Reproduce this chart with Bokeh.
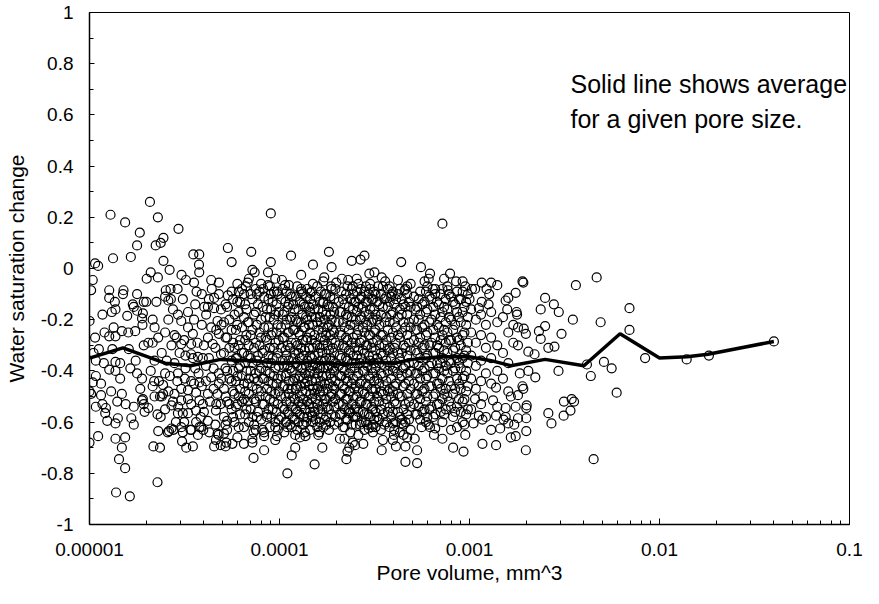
from bokeh.plotting import figure
from bokeh.models import Range1d, FixedTicker, CustomJSTickFormatter, Label
from bokeh.embed import file_html
from bokeh.resources import INLINE

# ---- data: (pore volume mm^3, water saturation change) ----
band_1e5_2e5 = [
    (1.29e-5, 0.21), (1.54e-5, 0.18), (1.84e-5, 0.14), (1.78e-5, 0.09), (1.33e-5, 0.04),
    (1.65e-5, 0.045), (1.07e-5, 0.02), (1.11e-5, 0.01), (1.04e-5, -0.045), (1.02e-5, -0.085),
    (1.27e-5, -0.085), (1.51e-5, -0.085), (1.50e-5, -0.10), (1.27e-5, -0.115), (1.36e-5, -0.13),
    (1.78e-5, -0.10), (1.93e-5, -0.13), (1.99e-5, -0.13), (1.69e-5, -0.14), (1.00e-5, -0.205),
    (1.07e-5, -0.27), (1.34e-5, -0.23), (1.48e-5, -0.245), (1.27e-5, -0.265), (1.37e-5, -0.265),
    (1.17e-5, -0.18), (1.37e-5, -0.16), (1.31e-5, -0.17), (1.58e-5, -0.185), (1.71e-5, -0.15),
    (1.78e-5, -0.165), (1.91e-5, -0.175), (1.89e-5, -0.195), (1.74e-5, -0.245), (1.93e-5, -0.30),
    (1.61e-5, -0.315), (1.32e-5, -0.315), (1.12e-5, -0.315), (1.08e-5, -0.36), (1.19e-5, -0.37),
    (1.37e-5, -0.365), (1.45e-5, -0.37), (1.27e-5, -0.395), (1.37e-5, -0.40), (1.64e-5, -0.39),
    (1.08e-5, -0.42), (1.04e-5, -0.445), (1.00e-5, -0.48), (1.48e-5, -0.49), (1.78e-5, -0.41),
    (1.89e-5, -0.43), (1.17e-5, -0.53), (1.15e-5, -0.495), (1.22e-5, -0.545), (1.21e-5, -0.565),
    (1.24e-5, -0.595), (1.08e-5, -0.54), (1.41e-5, -0.585), (1.37e-5, -0.605), (1.66e-5, -0.585),
    (1.71e-5, -0.61), (1.71e-5, -0.54), (1.89e-5, -0.515), (1.93e-5, -0.53), (1.00e-5, -0.68),
    (1.11e-5, -0.655), (1.37e-5, -0.665), (1.54e-5, -0.66), (1.48e-5, -0.70), (1.43e-5, -0.745),
    (1.54e-5, -0.78), (1.38e-5, -0.875), (1.63e-5, -0.89), (1.02e-5, -0.49), (1.91e-5, -0.51),
    (1.05e-5, -0.33), (1.15e-5, -0.45), (1.30e-5, -0.48), (1.45e-5, -0.43), (1.20e-5, -0.25),
    (1.60e-5, -0.25), (1.90e-5, -0.22), (1.75e-5, -0.36), (1.85e-5, -0.47), (1.95e-5, -0.56),
    (1.55e-5, -0.53), (1.40e-5, -0.52),
]

band_2e5_5e5 = [
    (2.08e-5, 0.26), (2.29e-5, 0.20), (2.45e-5, 0.12), (2.37e-5, 0.10), (2.23e-5, 0.09),
    (2.94e-5, 0.155), (2.45e-5, 0.03), (3.52e-5, 0.055), (3.78e-5, 0.055), (3.77e-5, 0.015),
    (2.64e-5, -0.005), (2.10e-5, -0.015), (2.00e-5, -0.04), (2.29e-5, -0.035), (3.05e-5, -0.025),
    (3.22e-5, -0.045), (3.55e-5, -0.055), (3.78e-5, -0.015), (4.37e-5, -0.045), (4.80e-5, -0.055),
    (2.52e-5, -0.085), (2.67e-5, -0.08), (2.91e-5, -0.08), (3.66e-5, -0.09), (4.53e-5, -0.115),
    (2.60e-5, -0.125), (2.68e-5, -0.12), (4.02e-5, -0.15), (4.20e-5, -0.15), (4.53e-5, -0.155),
    (4.92e-5, -0.16), (2.20e-5, -0.23), (2.04e-5, -0.29), (2.15e-5, -0.29), (2.19e-5, -0.44),
    (2.32e-5, -0.44), (2.44e-5, -0.455), (2.44e-5, -0.49), (2.04e-5, -0.545), (2.28e-5, -0.57),
    (2.37e-5, -0.58), (2.17e-5, -0.695), (2.35e-5, -0.70), (2.28e-5, -0.835), (2.30e-5, -0.635),
    (2.62e-5, -0.635), (2.70e-5, -0.625), (2.20e-5, -0.50), (2.40e-5, -0.50), (2.58e-5, -0.64),
    (2.77e-5, -0.63), (2.70e-5, -0.535), (2.93e-5, -0.54), (3.10e-5, -0.565), (3.07e-5, -0.675),
    (3.23e-5, -0.70), (3.50e-5, -0.695), (3.40e-5, -0.63), (3.72e-5, -0.65), (3.79e-5, -0.62),
    (3.64e-5, -0.60), (3.97e-5, -0.63), (4.27e-5, -0.64), (4.63e-5, -0.67), (4.78e-5, -0.65),
    (4.90e-5, -0.69), (2.92e-5, -0.18), (3.04e-5, -0.205), (3.30e-5, -0.23), (3.50e-5, -0.255),
    (2.87e-5, -0.27), (3.04e-5, -0.295), (3.43e-5, -0.295), (2.98e-5, -0.33), (3.43e-5, -0.335),
    (3.72e-5, -0.345), (2.92e-5, -0.41), (3.17e-5, -0.43), (3.43e-5, -0.44), (3.79e-5, -0.445),
    (3.04e-5, -0.47), (3.30e-5, -0.475), (3.64e-5, -0.485), (3.04e-5, -0.515), (3.43e-5, -0.53),
    (3.79e-5, -0.515), (2.92e-5, -0.565), (3.30e-5, -0.565), (3.64e-5, -0.555), (3.04e-5, -0.62),
    (3.43e-5, -0.63), (3.87e-5, -0.62), (4.20e-5, -0.595), (4.20e-5, -0.49), (4.37e-5, -0.425),
    (4.45e-5, -0.295), (4.37e-5, -0.23), (4.11e-5, -0.18), (4.72e-5, -0.205), (4.80e-5, -0.255),
    (4.92e-5, -0.335), (4.72e-5, -0.49), (4.63e-5, -0.555), (4.72e-5, -0.645), (4.53e-5, -0.695),
    (3.10e-5, -0.12), (3.60e-5, -0.14), (2.60e-5, -0.20), (2.50e-5, -0.25), (2.70e-5, -0.30),
    (2.55e-5, -0.36), (2.40e-5, -0.33), (2.30e-5, -0.27), (2.20e-5, -0.36), (2.10e-5, -0.40),
    (2.60e-5, -0.48), (2.75e-5, -0.52), (2.50e-5, -0.55), (2.85e-5, -0.60), (4.00e-5, -0.30),
    (4.10e-5, -0.38), (3.90e-5, -0.46), (4.30e-5, -0.52), (4.00e-5, -0.56), (3.20e-5, -0.39),
    (3.75e-5, -0.41), (3.50e-5, -0.35), (4.50e-5, -0.39), (4.80e-5, -0.45), (4.60e-5, -0.61),
    (3.10e-5, -0.64), (2.90e-5, -0.44), (2.35e-5, -0.50), (4.40e-5, -0.08), (3.90e-5, -0.10),
    (4.80e-5, -0.10), (3.30e-5, -0.17), (3.90e-5, -0.22), (4.20e-5, -0.27), (3.70e-5, -0.29),
    (4.60e-5, -0.31), (3.20e-5, -0.34), (2.80e-5, -0.37), (3.60e-5, -0.39), (4.80e-5, -0.41),
    (4.10e-5, -0.44), (3.30e-5, -0.51), (4.50e-5, -0.47), (4.90e-5, -0.53), (3.85e-5, -0.58),
    (2.65e-5, -0.42), (2.25e-5, -0.13), (2.75e-5, -0.16),
    (2.15e-5, -0.20), (2.15e-5, -0.46), (2.50e-5, -0.11), (2.50e-5, -0.41), (2.80e-5, -0.26),
    (2.80e-5, -0.49), (3.15e-5, -0.28), (3.15e-5, -0.60), (3.55e-5, -0.20), (3.55e-5, -0.45),
    (3.95e-5, -0.35), (3.95e-5, -0.53), (4.25e-5, -0.12), (4.25e-5, -0.35), (4.65e-5, -0.24),
    (4.65e-5, -0.53), (4.95e-5, -0.22), (4.95e-5, -0.43),
]

band_5e5_1e4 = [
    (5.35e-5, 0.08), (5.6e-5, 0.025), (7.1e-5, 0.065), (7.2e-5, -0.005), (9.0e-5, 0.215),
    (9.0e-5, 0.025), (8.7e-5, -0.015), (7.4e-5, -0.015), (5.35e-5, -0.105), (6.1e-5, -0.09),
    (6.8e-5, -0.055), (6.65e-5, -0.07), (7.6e-5, -0.10), (8.2e-5, -0.08), (8.7e-5, -0.065),
    (9.0e-5, -0.10), (9.7e-5, -0.09), (6.0e-5, -0.13), (5.2e-5, -0.695), (5.25e-5, -0.68),
    (5.1e-5, -0.645), (5.65e-5, -0.685), (5.3e-5, -0.595), (6.5e-5, -0.685), (7.3e-5, -0.74),
    (8.3e-5, -0.71), (7.2e-5, -0.665), (7.3e-5, -0.64), (8.3e-5, -0.655), (9.7e-5, -0.655),
    (8.6e-5, -0.58), (9.5e-5, -0.62),
]

band_1e4_2e4 = [
    (1.15e-4, 0.05), (1.82e-4, 0.065), (1.5e-4, 0.015), (1.88e-4, 0.005), (1.3e-4, -0.025),
    (1.72e-4, -0.035), (1.03e-4, -0.045), (1.07e-4, -0.065), (1.12e-4, -0.065), (1.3e-4, -0.08),
    (1.87e-4, -0.07), (1.99e-4, -0.055), (1.45e-4, -0.095), (1.7e-4, -0.135), (1.1e-4, -0.80),
    (1.16e-4, -0.73), (1.21e-4, -0.70), (1.21e-4, -0.65), (1.37e-4, -0.655), (1.34e-4, -0.61),
    (1.1e-4, -0.62), (1.49e-4, -0.575), (1.53e-4, -0.765), (1.68e-4, -0.70), (1.62e-4, -0.64),
    (1.76e-4, -0.61), (1.28e-4, -0.66),
]

band_2e4_5e4 = [
    (2.4e-4, 0.03), (2.67e-4, 0.035), (2.8e-4, 0.05), (2.97e-4, -0.02), (3.16e-4, -0.015),
    (4.37e-4, 0.025), (2.13e-4, -0.04), (2.3e-4, -0.045), (2.43e-4, -0.07), (2.68e-4, -0.08),
    (3.0e-4, -0.06), (3.3e-4, -0.07), (3.8e-4, -0.07), (3.9e-4, -0.10), (4.7e-4, -0.07),
    (2.25e-4, -0.745), (2.2e-4, -0.665), (2.33e-4, -0.70), (2.5e-4, -0.69), (2.76e-4, -0.685),
    (2.95e-4, -0.625), (3.5e-4, -0.67), (4.1e-4, -0.695), (4.6e-4, -0.755), (4.7e-4, -0.66),
    (2.08e-4, -0.665), (2.28e-4, -0.715), (2.43e-4, -0.68), (2.2e-4, -0.62), (2.33e-4, -0.565),
    (2.5e-4, -0.58), (3.1e-4, -0.61), (3.45e-4, -0.71), (4.0e-4, -0.65), (3.95e-4, -0.67),
    (4.4e-4, -0.605), (3.95e-4, -0.605), (4.6e-4, -0.695), (4.5e-4, -0.65),
    (2.55e-4, -0.04), (3.45e-4, -0.035), (3.6e-4, -0.05), (4.2e-4, -0.045), (4.55e-4, -0.085),
]

band_5e4_1e3 = [
    (7.2e-4, 0.175), (5.55e-4, 0.005), (6.2e-4, -0.02), (7.9e-4, -0.02), (7.35e-4, -0.04),
    (5.8e-4, -0.05), (6.1e-4, -0.04), (6.4e-4, -0.08), (6.6e-4, -0.08), (7.7e-4, -0.085),
    (8.5e-4, -0.05), (9.2e-4, -0.05), (9.5e-4, -0.07), (5.3e-4, -0.71), (5.3e-4, -0.76),
    (5.6e-4, -0.62), (6.2e-4, -0.62), (6.5e-4, -0.65), (5.15e-4, -0.665), (8.2e-4, -0.70),
    (9.3e-4, -0.715), (9.5e-4, -0.65), (6.1e-4, -0.61), (6.6e-4, -0.625), (7.2e-4, -0.665),
    (8.0e-4, -0.63), (8.6e-4, -0.62),
]

band_above_1e3 = [
    (1.07e-3, -0.08), (1.03e-3, -0.08), (1.16e-3, -0.055), (1.30e-3, -0.055), (1.40e-3, -0.065),
    (1.90e-3, -0.05), (1.92e-3, -0.055), (1.75e-3, -0.095), (1.60e-3, -0.115), (1.55e-3, -0.125),
    (1.27e-3, -0.10), (1.23e-3, -0.08), (1.00e-3, -0.12), (2.50e-3, -0.115), (2.78e-3, -0.14),
    (2.37e-3, -0.16), (2.95e-3, -0.17), (3.63e-3, -0.065), (4.67e-3, -0.035), (6.95e-3, -0.155),
    (1.77e-3, -0.17), (1.58e-3, -0.16), (1.16e-3, -0.13), (1.26e-3, -0.14), (1.12e-3, -0.155),
    (3.50e-3, -0.20), (4.90e-3, -0.21), (6.95e-3, -0.24), (2.50e-3, -0.225), (2.32e-3, -0.245),
    (3.05e-3, -0.255), (2.37e-3, -0.275), (2.60e-3, -0.31), (2.80e-3, -0.305), (8.40e-3, -0.35),
    (4.15e-3, -0.375), (5.10e-3, -0.365), (5.60e-3, -0.39), (4.35e-3, -0.42), (5.95e-3, -0.485),
    (2.94e-3, -0.40), (2.22e-3, -0.425), (2.04e-3, -0.40), (3.14e-3, -0.52), (3.45e-3, -0.51),
    (3.55e-3, -0.52), (3.40e-3, -0.555), (3.13e-3, -0.575), (2.60e-3, -0.565), (2.70e-3, -0.605),
    (1.99e-3, -0.545), (2.00e-3, -0.535), (1.99e-3, -0.585), (1.99e-3, -0.635), (1.98e-3, -0.71),
    (4.50e-3, -0.745), (1.75e-3, -0.54), (1.80e-3, -0.585), (1.60e-3, -0.605), (1.72e-3, -0.61),
    (1.55e-3, -0.545), (1.65e-3, -0.66), (1.75e-3, -0.655), (1.45e-3, -0.625), (1.30e-3, -0.63),
    (1.38e-3, -0.69), (1.17e-3, -0.685), (1.80e-3, -0.30), (1.98e-3, -0.255), (1.80e-3, -0.23),
    (1.93e-3, -0.235), (1.78e-3, -0.18), (2.04e-3, -0.325), (2.20e-3, -0.335), (1.84e-3, -0.41),
    (1.92e-3, -0.47), (1.90e-3, -0.46), (1.60e-3, -0.48), (1.65e-3, -0.50), (1.80e-3, -0.495),
    (1.33e-3, -0.515), (1.38e-3, -0.465), (1.18e-3, -0.50), (1.07e-3, -0.51), (1.38e-3, -0.575),
    (1.55e-3, -0.58), (1.51e-3, -0.59), (1.17e-3, -0.59), (1.05e-3, -0.605), (1.12e-3, -0.575),
    (1.39e-2, -0.355), (1.82e-2, -0.34), (4.00e-2, -0.285),
]

# dense core, read column by column: (pore volume, [saturation changes at that volume])
core_5e5_1e4 = [
    (5.1e-5, [-0.21, -0.33, -0.47, -0.58]), (5.2e-5, [-0.14, -0.27, -0.39, -0.50, -0.61]),
    (5.3e-5, [-0.15, -0.27, -0.40, -0.52, -0.63]), (5.45e-5, [-0.20, -0.31, -0.43, -0.53]),
    (5.6e-5, [-0.09, -0.24, -0.36, -0.44, -0.55]), (5.7e-5, [-0.12, -0.29, -0.40, -0.48, -0.58]),
    (5.8e-5, [-0.18, -0.31, -0.49, -0.60]), (5.9e-5, [-0.24, -0.35, -0.44, -0.54]),
    (6.0e-5, [-0.06, -0.22, -0.35, -0.42, -0.53, -0.66]), (6.1e-5, [-0.17, -0.30, -0.39, -0.50, -0.62]),
    (6.2e-5, [-0.13, -0.28, -0.38, -0.47, -0.57]), (6.35e-5, [-0.08, -0.23, -0.33, -0.42, -0.52]),
    (6.5e-5, [-0.10, -0.19, -0.33, -0.45, -0.51, -0.62]), (6.6e-5, [-0.14, -0.28, -0.37, -0.48, -0.57]),
    (6.7e-5, [-0.16, -0.26, -0.40, -0.55]), (6.8e-5, [-0.21, -0.34, -0.45, -0.52]),
    (6.9e-5, [-0.04, -0.21, -0.30, -0.43, -0.49, -0.60]), (7.05e-5, [-0.10, -0.26, -0.35, -0.40, -0.55]),
    (7.2e-5, [-0.12, -0.24, -0.37, -0.46, -0.58, -0.68]), (7.35e-5, [-0.18, -0.31, -0.43, -0.51, -0.61]),
    (7.5e-5, [-0.08, -0.17, -0.29, -0.41, -0.52, -0.63]), (7.6e-5, [-0.22, -0.36, -0.47, -0.58]),
    (7.7e-5, [-0.14, -0.34, -0.44, -0.56]), (7.85e-5, [-0.09, -0.25, -0.30, -0.40, -0.50]),
    (8.0e-5, [-0.06, -0.20, -0.27, -0.39, -0.48, -0.59]), (8.15e-5, [-0.15, -0.33, -0.43, -0.53, -0.63]),
    (8.3e-5, [-0.11, -0.23, -0.32, -0.43, -0.53, -0.64]), (8.45e-5, [-0.19, -0.27, -0.40, -0.50]),
    (8.6e-5, [-0.16, -0.28, -0.37, -0.47, -0.57]), (8.75e-5, [-0.12, -0.23, -0.34, -0.44, -0.55]),
    (8.9e-5, [-0.07, -0.19, -0.31, -0.41, -0.51, -0.62]), (9.05e-5, [-0.16, -0.26, -0.37, -0.48, -0.58]),
    (9.2e-5, [-0.13, -0.25, -0.35, -0.45, -0.55]), (9.35e-5, [-0.09, -0.20, -0.31, -0.42, -0.52]),
    (9.5e-5, [-0.04, -0.18, -0.29, -0.39, -0.49, -0.60, -0.67]), (9.65e-5, [-0.14, -0.25, -0.35, -0.45, -0.56]),
    (9.8e-5, [-0.10, -0.22, -0.33, -0.43, -0.53, -0.63]), (9.9e-5, [-0.17, -0.28, -0.38, -0.48, -0.59]),
]

core_1e4_2e4 = [
    (1.02e-4, [-0.12, -0.23, -0.31, -0.42, -0.50, -0.58]), (1.04e-4, [-0.08, -0.18, -0.27, -0.36, -0.46, -0.54]),
    (1.06e-4, [-0.17, -0.27, -0.38, -0.46, -0.55, -0.64]), (1.075e-4, [-0.13, -0.22, -0.32, -0.42, -0.50, -0.60]),
    (1.09e-4, [-0.09, -0.20, -0.34, -0.41, -0.52, -0.60]), (1.105e-4, [-0.15, -0.25, -0.30, -0.38, -0.47, -0.56]),
    (1.12e-4, [-0.14, -0.25, -0.36, -0.44, -0.49, -0.57]), (1.14e-4, [-0.10, -0.20, -0.31, -0.39, -0.52, -0.61]),
    (1.16e-4, [-0.11, -0.19, -0.29, -0.40, -0.47, -0.54, -0.62]), (1.18e-4, [-0.14, -0.24, -0.35, -0.44, -0.50, -0.58]),
    (1.20e-4, [-0.16, -0.24, -0.33, -0.43, -0.51, -0.59]), (1.22e-4, [-0.11, -0.20, -0.29, -0.37, -0.47, -0.55]),
    (1.24e-4, [-0.07, -0.21, -0.30, -0.38, -0.46, -0.56, -0.63]), (1.26e-4, [-0.16, -0.25, -0.33, -0.43, -0.52, -0.60]),
    (1.28e-4, [-0.13, -0.26, -0.35, -0.42, -0.50, -0.57]), (1.30e-4, [-0.09, -0.21, -0.31, -0.39, -0.46, -0.54]),
    (1.32e-4, [-0.10, -0.18, -0.28, -0.39, -0.48, -0.53, -0.61]), (1.34e-4, [-0.14, -0.23, -0.34, -0.43, -0.51, -0.58]),
    (1.36e-4, [-0.15, -0.23, -0.32, -0.41, -0.45, -0.55, -0.64]), (1.38e-4, [-0.11, -0.19, -0.28, -0.38, -0.48, -0.60]),
    (1.40e-4, [-0.08, -0.20, -0.27, -0.36, -0.44, -0.52, -0.58]), (1.43e-4, [-0.15, -0.22, -0.31, -0.42, -0.46, -0.53]),
    (1.45e-4, [-0.12, -0.17, -0.25, -0.34, -0.40, -0.49, -0.56, -0.63]), (1.48e-4, [-0.09, -0.19, -0.28, -0.35, -0.44, -0.51, -0.58]),
    (1.50e-4, [-0.06, -0.14, -0.22, -0.31, -0.38, -0.47, -0.54, -0.60]), (1.53e-4, [-0.16, -0.26, -0.34, -0.41, -0.49, -0.56]),
    (1.55e-4, [-0.11, -0.19, -0.29, -0.37, -0.43, -0.51, -0.59]), (1.58e-4, [-0.07, -0.21, -0.30, -0.39, -0.47, -0.53, -0.62]),
    (1.60e-4, [-0.16, -0.24, -0.33, -0.41, -0.46, -0.55, -0.65]), (1.63e-4, [-0.13, -0.19, -0.31, -0.39, -0.48, -0.60]),
    (1.65e-4, [-0.09, -0.21, -0.27, -0.36, -0.44, -0.50, -0.57]), (1.68e-4, [-0.17, -0.25, -0.33, -0.42, -0.46, -0.55]),
    (1.70e-4, [-0.05, -0.13, -0.23, -0.30, -0.39, -0.48, -0.53, -0.62]), (1.73e-4, [-0.10, -0.20, -0.28, -0.36, -0.45, -0.51, -0.59]),
    (1.76e-4, [-0.10, -0.18, -0.26, -0.35, -0.42, -0.51, -0.58]), (1.79e-4, [-0.14, -0.23, -0.30, -0.39, -0.47, -0.54]),
    (1.82e-4, [-0.15, -0.22, -0.32, -0.38, -0.45, -0.55, -0.63]), (1.85e-4, [-0.11, -0.18, -0.26, -0.35, -0.41, -0.50, -0.60]),
    (1.88e-4, [-0.08, -0.20, -0.28, -0.36, -0.43, -0.49, -0.57]), (1.91e-4, [-0.15, -0.24, -0.31, -0.39, -0.46, -0.52]),
    (1.94e-4, [-0.12, -0.17, -0.25, -0.33, -0.40, -0.47, -0.54, -0.61]), (1.97e-4, [-0.08, -0.21, -0.29, -0.37, -0.44, -0.51, -0.58]),
]

core_2e4_5e4 = [
    (2.05e-4, [-0.13, -0.21, -0.30, -0.38, -0.45, -0.53, -0.60]), (2.08e-4, [-0.17, -0.25, -0.34, -0.42, -0.49, -0.57]),
    (2.12e-4, [-0.09, -0.17, -0.26, -0.35, -0.42, -0.49, -0.57]), (2.16e-4, [-0.12, -0.21, -0.30, -0.39, -0.46, -0.53, -0.62]),
    (2.20e-4, [-0.14, -0.23, -0.31, -0.40, -0.47, -0.55]), (2.24e-4, [-0.10, -0.18, -0.27, -0.35, -0.43, -0.51, -0.59]),
    (2.28e-4, [-0.07, -0.19, -0.28, -0.36, -0.44, -0.51, -0.59]), (2.32e-4, [-0.15, -0.24, -0.32, -0.41, -0.48, -0.55]),
    (2.36e-4, [-0.12, -0.22, -0.33, -0.39, -0.48, -0.56, -0.64]), (2.40e-4, [-0.08, -0.19, -0.29, -0.37, -0.45, -0.53, -0.61]),
    (2.44e-4, [-0.10, -0.16, -0.27, -0.34, -0.43, -0.50, -0.58]), (2.48e-4, [-0.13, -0.22, -0.31, -0.39, -0.47, -0.55]),
    (2.52e-4, [-0.13, -0.20, -0.29, -0.37, -0.46, -0.54, -0.61]), (2.56e-4, [-0.09, -0.17, -0.26, -0.34, -0.42, -0.50, -0.58]),
    (2.60e-4, [-0.06, -0.15, -0.24, -0.32, -0.41, -0.48, -0.56, -0.65]), (2.65e-4, [-0.12, -0.20, -0.29, -0.37, -0.45, -0.52, -0.61]),
    (2.70e-4, [-0.11, -0.19, -0.28, -0.35, -0.44, -0.52, -0.60]), (2.75e-4, [-0.15, -0.23, -0.32, -0.40, -0.48, -0.56]),
    (2.80e-4, [-0.09, -0.17, -0.25, -0.33, -0.40, -0.49, -0.57, -0.63]), (2.85e-4, [-0.07, -0.13, -0.21, -0.30, -0.37, -0.45, -0.53, -0.60]),
    (2.90e-4, [-0.13, -0.22, -0.30, -0.38, -0.46, -0.53, -0.61]), (2.95e-4, [-0.10, -0.18, -0.26, -0.34, -0.42, -0.50, -0.57]),
    (3.00e-4, [-0.08, -0.16, -0.26, -0.36, -0.43, -0.50, -0.58]), (3.05e-4, [-0.12, -0.21, -0.31, -0.39, -0.47, -0.54, -0.62]),
    (3.10e-4, [-0.12, -0.20, -0.29, -0.34, -0.41, -0.48, -0.55, -0.64]), (3.15e-4, [-0.09, -0.16, -0.25, -0.37, -0.44, -0.52, -0.59]),
    (3.20e-4, [-0.10, -0.18, -0.24, -0.32, -0.39, -0.47, -0.56, -0.62]), (3.27e-4, [-0.13, -0.20, -0.28, -0.35, -0.43, -0.50, -0.58]),
    (3.35e-4, [-0.14, -0.22, -0.30, -0.37, -0.45, -0.52, -0.59]), (3.42e-4, [-0.10, -0.18, -0.26, -0.33, -0.41, -0.48, -0.55, -0.63]),
    (3.50e-4, [-0.07, -0.15, -0.26, -0.34, -0.42, -0.49, -0.57]), (3.57e-4, [-0.12, -0.21, -0.30, -0.38, -0.46, -0.53, -0.61]),
    (3.65e-4, [-0.11, -0.19, -0.28, -0.36, -0.44, -0.51, -0.60]), (3.72e-4, [-0.08, -0.15, -0.24, -0.32, -0.40, -0.48, -0.56]),
    (3.80e-4, [-0.13, -0.21, -0.31, -0.38, -0.47, -0.54, -0.62]), (3.87e-4, [-0.11, -0.18, -0.27, -0.35, -0.43, -0.50, -0.58]),
    (3.95e-4, [-0.09, -0.17, -0.25, -0.33, -0.40, -0.48, -0.56]), (4.02e-4, [-0.14, -0.21, -0.31, -0.39, -0.46, -0.52, -0.63]),
    (4.10e-4, [-0.12, -0.23, -0.29, -0.37, -0.45, -0.53, -0.60]), (4.20e-4, [-0.10, -0.19, -0.26, -0.33, -0.41, -0.49, -0.56]),
    (4.30e-4, [-0.08, -0.16, -0.27, -0.35, -0.43, -0.50, -0.58, -0.64]), (4.40e-4, [-0.12, -0.18, -0.25, -0.33, -0.42, -0.50, -0.59]),
    (4.50e-4, [-0.14, -0.21, -0.30, -0.39, -0.46, -0.55, -0.61]), (4.60e-4, [-0.08, -0.15, -0.23, -0.31, -0.38, -0.45, -0.53, -0.60]),
    (4.70e-4, [-0.10, -0.18, -0.26, -0.34, -0.41, -0.49, -0.57]), (4.80e-4, [-0.13, -0.21, -0.29, -0.37, -0.44, -0.52, -0.59]),
    (4.90e-4, [-0.06, -0.15, -0.23, -0.32, -0.40, -0.47, -0.54, -0.63]),
]

core_5e4_1e3 = [
    (5.1e-4, [-0.11, -0.20, -0.28, -0.37, -0.45, -0.53]), (5.2e-4, [-0.16, -0.24, -0.32, -0.41, -0.49, -0.57]),
    (5.3e-4, [-0.15, -0.24, -0.33, -0.41, -0.49, -0.57]), (5.4e-4, [-0.12, -0.20, -0.29, -0.38, -0.46, -0.54]),
    (5.5e-4, [-0.09, -0.18, -0.27, -0.35, -0.43, -0.51, -0.59]), (5.65e-4, [-0.14, -0.23, -0.31, -0.40, -0.48, -0.56]),
    (5.8e-4, [-0.13, -0.22, -0.30, -0.39, -0.47, -0.55]), (5.9e-4, [-0.09, -0.17, -0.26, -0.35, -0.43, -0.52, -0.60]),
    (6.0e-4, [-0.07, -0.16, -0.25, -0.34, -0.42, -0.50, -0.58]), (6.15e-4, [-0.11, -0.21, -0.30, -0.38, -0.46, -0.55]),
    (6.3e-4, [-0.12, -0.20, -0.29, -0.37, -0.46, -0.54]), (6.45e-4, [-0.15, -0.24, -0.33, -0.41, -0.50, -0.58]),
    (6.6e-4, [-0.10, -0.18, -0.27, -0.33, -0.41, -0.49, -0.57]), (6.75e-4, [-0.13, -0.22, -0.30, -0.37, -0.45, -0.53]),
    (6.9e-4, [-0.14, -0.23, -0.31, -0.39, -0.45, -0.53]), (7.05e-4, [-0.10, -0.19, -0.28, -0.37, -0.47, -0.56]),
    (7.2e-4, [-0.08, -0.17, -0.26, -0.35, -0.43, -0.51, -0.60]), (7.35e-4, [-0.15, -0.24, -0.32, -0.40, -0.49, -0.57]),
    (7.5e-4, [-0.12, -0.21, -0.29, -0.38, -0.47, -0.55]), (7.65e-4, [-0.07, -0.16, -0.25, -0.33, -0.41, -0.50]),
    (7.8e-4, [-0.10, -0.19, -0.28, -0.36, -0.44, -0.52]), (8.0e-4, [-0.11, -0.20, -0.28, -0.37, -0.46, -0.54]),
    (8.2e-4, [-0.13, -0.24, -0.32, -0.40, -0.49, -0.58]), (8.4e-4, [-0.14, -0.22, -0.31, -0.39, -0.47, -0.56]),
    (8.6e-4, [-0.09, -0.17, -0.27, -0.35, -0.43, -0.54]), (8.8e-4, [-0.12, -0.19, -0.28, -0.37, -0.45, -0.51]),
    (9.0e-4, [-0.12, -0.21, -0.30, -0.39, -0.47, -0.56]), (9.2e-4, [-0.09, -0.17, -0.26, -0.35, -0.43, -0.52, -0.60]),
    (9.4e-4, [-0.15, -0.25, -0.34, -0.42, -0.51, -0.61]), (9.6e-4, [-0.13, -0.22, -0.32, -0.40, -0.48, -0.57]),
    (9.8e-4, [-0.10, -0.19, -0.29, -0.37, -0.46, -0.55]),
]

core_above_1e3 = [
    (1.02e-3, [-0.16, -0.25, -0.34, -0.43, -0.55]), (1.08e-3, [-0.20, -0.29, -0.38, -0.47]),
    (1.15e-3, [-0.18, -0.26, -0.36, -0.44, -0.53]), (1.22e-3, [-0.22, -0.31, -0.41, -0.58]),
    (1.30e-3, [-0.17, -0.27, -0.35, -0.45]), (1.40e-3, [-0.21, -0.30, -0.40, -0.54]),
    (1.50e-3, [-0.19, -0.33, -0.43]), (1.60e-3, [-0.25, -0.37]), (1.70e-3, [-0.22, -0.29]),
]

# average line for a given pore size
avg_pore_volume = [1.0e-5, 1.5e-5, 2.5e-5, 3.4e-5, 4.9e-5, 7.0e-5, 1.0e-4, 1.5e-4, 2.2e-4, 3.0e-4,
                   4.0e-4, 5.0e-4, 7.0e-4, 1.0e-3, 1.3e-3, 1.65e-3, 2.5e-3, 4.0e-3, 6.2e-3, 1.0e-2,
                   1.4e-2, 1.8e-2, 4.0e-2]
avg_saturation_change = [-0.35, -0.31, -0.37, -0.38, -0.355, -0.36, -0.37, -0.365, -0.375, -0.365,
                         -0.37, -0.355, -0.345, -0.345, -0.36, -0.38, -0.355, -0.38, -0.255, -0.35,
                         -0.345, -0.335, -0.285]

x_ticks = [1e-5, 1e-4, 1e-3, 1e-2, 1e-1]
x_tick_labels = ["0.00001", "0.0001", "0.001", "0.01", "0.1"]
y_ticks = [-1.0, -0.8, -0.6, -0.4, -0.2, 0.0, 0.2, 0.4, 0.6, 0.8, 1.0]
y_tick_labels = ["-1", "-0.8", "-0.6", "-0.4", "-0.2", "0", "0.2", "0.4", "0.6", "0.8", "1"]
note_lines = ["Solid line shows average", "for a given pore size."]

# ---- build ----
bands = [band_1e5_2e5, band_2e5_5e5, band_5e5_1e4, band_1e4_2e4, band_2e4_5e4, band_5e4_1e3, band_above_1e3]
cores = [core_5e5_1e4, core_1e4_2e4, core_2e4_5e4, core_5e4_1e3, core_above_1e3]
pore_volume = [pt[0] for b in bands for pt in b] + [xv for c in cores for xv, ys in c for _ in ys]
saturation_change = [pt[1] for b in bands for pt in b] + [yv for c in cores for xv, ys in c for yv in ys]

FONT = "Liberation Sans"

p = figure(width=863, height=588, x_axis_type="log",
           x_range=Range1d(1e-5, 0.1), y_range=Range1d(-1, 1),
           output_backend="svg", toolbar_location=None,
           min_border_left=89, min_border_right=14, min_border_top=12, min_border_bottom=64)
p.xgrid.visible = False
p.ygrid.visible = False
p.background_fill_color = "white"
p.border_fill_color = "white"
p.outline_line_color = "black"
p.outline_line_width = 1

minor_x = [m * 10.0 ** e for e in range(-5, -1) for m in range(2, 10)]
minor_y = [-0.9, -0.7, -0.5, -0.3, -0.1, 0.1, 0.3, 0.5, 0.7, 0.9]

xa = p.xaxis[0]
xa.ticker = FixedTicker(ticks=x_ticks, minor_ticks=minor_x)
xa.formatter = CustomJSTickFormatter(args=dict(labels=x_tick_labels),
                                     code="return labels[Math.round(Math.log10(tick)) + 5];")
ya = p.yaxis[0]
ya.ticker = FixedTicker(ticks=y_ticks, minor_ticks=minor_y)
ya.formatter = CustomJSTickFormatter(args=dict(labels=y_tick_labels),
                                     code="return labels[Math.round(tick * 5) + 5];")

for ax in (xa, ya):
    ax.axis_line_color = "black"
    ax.axis_line_width = 1.5
    ax.major_tick_line_color = "black"
    ax.minor_tick_line_color = "black"
    ax.major_tick_out = 0
    ax.minor_tick_out = 0
    ax.major_label_text_font = FONT
    ax.major_label_text_font_size = "19px"
    ax.major_label_text_color = "black"
    ax.axis_label_text_font = FONT
    ax.axis_label_text_font_size = "21px"
    ax.axis_label_text_font_style = "normal"
    ax.axis_label_text_color = "black"

xa.major_tick_in = 6
xa.minor_tick_in = 4
xa.major_label_standoff = 18
xa.axis_label_standoff = 2
xa.axis_label = "Pore volume, mm^3"

ya.major_tick_in = 5
ya.minor_tick_in = 4
ya.major_label_standoff = 16
ya.axis_label_standoff = 10
ya.axis_label = "Water saturation change"

p.scatter(pore_volume, saturation_change, marker="circle", size=9,
          fill_color=None, line_color="black", line_width=1.2)
p.line(avg_pore_volume, avg_saturation_change, line_color="black", line_width=3.5)

for txt, yv in zip(note_lines, [0.72, 0.585]):
    p.add_layout(Label(x=3.4e-3, y=yv, text=txt, text_font=FONT, text_font_size="25px",
                       text_color="black", text_baseline="middle", text_align="left"))

open("out.html", "w").write(file_html(p, INLINE, title="Water saturation change vs pore volume"))
